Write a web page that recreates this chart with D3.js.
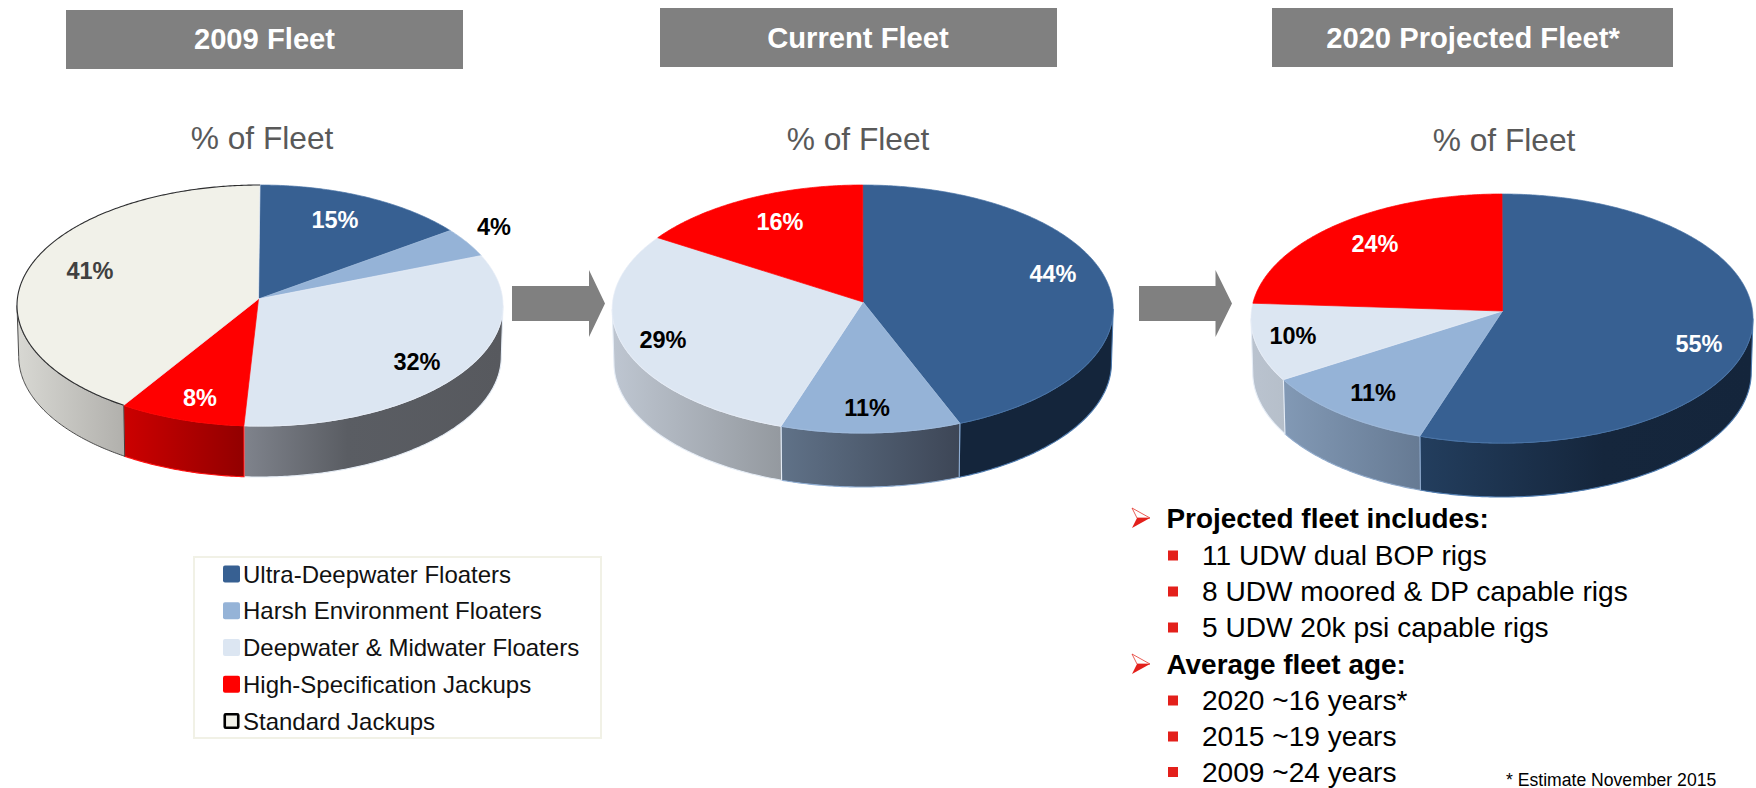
<!DOCTYPE html>
<html><head><meta charset="utf-8">
<script src="https://cdn.jsdelivr.net/npm/d3@7"></script>
<style>html,body{margin:0;padding:0;background:#fff}svg{display:block}text{font-family:"Liberation Sans",Arial,sans-serif}</style>
</head><body><svg id="c" width="1756" height="788"></svg>
<script>
// ---- data ----
const categories = ["Ultra-Deepwater Floaters","Harsh Environment Floaters","Deepwater & Midwater Floaters","High-Specification Jackups","Standard Jackups"];
const fleetTitles = ["2009 Fleet","Current Fleet","2020 Projected Fleet*"];
const subtitle = "% of Fleet";
const fleet2009 = [15,4,32,8,41];
const fleetCurrent = [44,11,29,16,0];
const fleet2020 = [55,11,10,24,0];
const bulletGroups = [
  {head:"Projected fleet includes:",items:["11 UDW dual BOP rigs","8 UDW moored & DP capable rigs","5 UDW 20k psi capable rigs"]},
  {head:"Average fleet age:",items:["2020 ~16 years*","2015 ~19 years","2009 ~24 years"]}
];
const footnote = "* Estimate November 2015";

// ---- style / layout ----
const colors = ["#376092","#95B3D7","#DCE6F2","#FF0000","#F1F1E9"];
const labelColors = [
  ["#fff","#000","#000","#fff","#404040"],
  ["#fff","#000","#000","#fff","#000"],
  ["#fff","#000","#000","#fff","#000"]];
const pies = [
 {cx:260,cy:305.5,rx:243,ry:120.5,ax:258.5,ay:299,depth:51,values:fleet2009,
  head:[66,10,397,59],headText:[264.5,38.5],sub:[262,138],
  labels:[[335,220],[494,226.5],[90,271],[417,362],[200,398]],
  walls:{2:[["#7f838c",0],["#5a5d63",.4],["#57595e",1]],3:[["#cc0000",0],["#920000",1]],4:[["#d8d8d3",0],["#b1b0ac",1]]},
  edge:{2:"#e6edf6",3:"#ff1010",4:"#3a3a3a"}},
 {cx:862.7,cy:309,rx:250.5,ry:124,ax:863,ay:302,depth:54,values:fleetCurrent,
  head:[660,8,397,59],headText:[858,37.5],sub:[858,139],
  labels:[[1053,274],[867,408],[663,340],[780,222]],
  walls:{0:[["#14253b",0],["#14253b",1]],1:[["#607288",0],["#3d4656",1]],2:[["#bec6d1",0],["#94999f",1]]},
  edge:{0:"#4f7cb0",1:"#8fadd2",2:"#e6edf6"}},
 {cx:1502,cy:318.5,rx:251,ry:124.5,ax:1502.5,ay:311,depth:54,values:fleet2020,
  head:[1272,8,401,59],headText:[1473,37.5],sub:[1504,140],
  labels:[[1699,344],[1373,393],[1293,336],[1375,244]],
  walls:{0:[["#233e5e",0],["#15263c",.55],["#14253b",1]],1:[["#8299b5",0],["#667a93",1]],2:[["#bac3cf",0],["#b6bfca",1]]},
  edge:{0:"#4f7cb0",1:"#8fa9ca",2:"#e6edf6"}}
];
const arrows = [[512,589,605],[1139,1215.5,1232]];
const arrowY = [270,286,321,337];
const svg = d3.select("#c"), defs = svg.append("defs");
const lineGen = d3.line().x(d=>d[0]).y(d=>d[1]);
const pieGen = d3.pie().sort(null).value(d=>d).startAngle(0).endAngle(2*Math.PI);

pies.forEach((p,pi)=>{
  const k = (p.cy-p.ay)/p.ry;
  const B = p.ry*(1-k*k), A = p.rx*Math.sqrt(1-k*k);
  const sx = d3.scaleLinear().domain([-1,1]).range([p.cx-A,p.cx+A]);
  const sy = d3.scaleLinear().domain([-1,1]).range([p.ay-B,p.ay+B]);
  // perspective projection of a point on the unit disc
  const proj = (th,r=1,drop=0,sc=1)=>{
    const u=r*Math.sin(th), v=-r*Math.cos(th), w=1-k*v;
    return [p.cx+(sx(u/w)-p.cx)*sc, sy(v/w)+drop];
  };
  const arcPts=(a,b,drop=0,sc=1)=>{
    const n=Math.max(2,Math.ceil(Math.abs(b-a)/0.01));
    return d3.range(n+1).map(i=>proj(a+(b-a)*i/n,1,drop,sc));
  };
  const arcs = pieGen(p.values);
  const limA = Math.PI/2+Math.asin(k), limB = 3*Math.PI/2-Math.asin(k);
  const g = svg.append("g");
  // walls
  arcs.forEach((d,i)=>{
    if(!d.value) return;
    const a=Math.max(d.startAngle,limA), b=Math.min(d.endAngle,limB);
    if(b<=a||!p.walls[i]) return;
    const top=arcPts(a,b), bot=arcPts(b,a,p.depth,.993);
    const xs=top.concat(bot).map(q=>q[0]);
    const id=`w${pi}_${i}`;
    const lg=defs.append("linearGradient").attr("id",id).attr("gradientUnits","userSpaceOnUse")
      .attr("x1",d3.min(xs)).attr("x2",d3.max(xs)).attr("y1",0).attr("y2",0);
    lg.selectAll("stop").data(p.walls[i]).enter().append("stop")
      .attr("offset",s=>s[1]).attr("stop-color",s=>s[0]);
    g.append("path").attr("d",lineGen(top.concat(bot))+"Z")
      .attr("fill",`url(#${id})`).attr("stroke",p.edge[i]).attr("stroke-width",i===4?0.9:1.1);
  });
  // top faces
  arcs.forEach((d,i)=>{
    if(!d.value) return;
    const pts=[[p.ax,p.ay]].concat(arcPts(d.startAngle,d.endAngle));
    g.append("path").attr("d",lineGen(pts)+"Z").attr("fill",colors[i])
      .attr("stroke",i===3?"#ff0000":(i===0?"#4a74a6":(i===1?"#a3bddd":"#e6edf6"))).attr("stroke-width",0.7);
    if(i===4) g.append("path").attr("d",lineGen(arcPts(d.startAngle,d.endAngle))).attr("fill","none").attr("stroke","#2e2e2e").attr("stroke-width",1.1);
  });
  // header
  svg.append("rect").attr("x",p.head[0]).attr("y",p.head[1]).attr("width",p.head[2]).attr("height",p.head[3]).attr("fill","#808080");
  svg.append("text").attr("x",p.headText[0]).attr("y",p.headText[1]).attr("dy","0.36em").attr("text-anchor","middle")
    .attr("font-size",29.2).attr("font-weight","bold").attr("fill","#fff").text(fleetTitles[pi]);
  svg.append("text").attr("x",p.sub[0]).attr("y",p.sub[1]).attr("dy","0.36em").attr("text-anchor","middle")
    .attr("font-size",31.7).attr("fill","#595959").text(subtitle);
  // labels
  const order = pi===0 ? [0,1,4,2,3] : [0,1,2,3];
  order.forEach((cat,li)=>{
    svg.append("text").attr("x",p.labels[li][0]).attr("y",p.labels[li][1]).attr("dy","0.36em").attr("text-anchor","middle")
      .attr("font-size",23.5).attr("font-weight","bold").attr("fill",labelColors[pi][cat]).text(p.values[cat]+"%");
  });
});

// arrows
arrows.forEach(a=>{
  const pts=[[a[0],arrowY[1]],[a[1],arrowY[1]],[a[1],arrowY[0]],[a[2],(arrowY[0]+arrowY[3])/2],[a[1],arrowY[3]],[a[1],arrowY[2]],[a[0],arrowY[2]]];
  svg.append("path").attr("d",lineGen(pts)+"Z").attr("fill","#808080");
});

// legend
svg.append("rect").attr("x",194).attr("y",557).attr("width",407).attr("height",181).attr("fill","#fff").attr("stroke","#f1f1e6").attr("stroke-width",2);
const legY=d3.scalePoint().domain(categories).range([574,721]);
categories.forEach((c,i)=>{
  const y=legY(c), std=i===4, s=std?13.5:17;
  svg.append("rect").attr("x",231.5-s/2).attr("y",y-s/2).attr("width",s).attr("height",s).attr("rx",std?1:2)
    .attr("fill",colors[i]).attr("stroke",std?"#000":"none").attr("stroke-width",std?2.6:0);
  svg.append("text").attr("x",243).attr("y",y).attr("dy","0.36em").attr("font-size",24).attr("fill","#111").text(c);
});

// bullets
const baselines=[528,565,601,637,674,710,746,781.5];
let bi=0;
bulletGroups.forEach(gr=>{
  const y=baselines[bi++];
  const bx=1132, by=y-20;
  svg.append("path").attr("d",`M${bx},${by}L${bx+18},${by+10}L${bx+5},${by+10}Z`).attr("fill","#fff").attr("stroke","#e3342b").attr("stroke-width",0.8);
  svg.append("path").attr("d",`M${bx},${by+20}L${bx+18},${by+10}L${bx+5},${by+10}Z`).attr("fill","#e3201b");
  svg.append("text").attr("x",1166.5).attr("y",y).attr("font-size",27.9).attr("font-weight","bold").attr("fill","#000").text(gr.head);
  gr.items.forEach(t=>{
    const yy=baselines[bi++];
    svg.append("rect").attr("x",1168).attr("y",yy-14.5).attr("width",10).attr("height",10).attr("fill","#e3201b");
    svg.append("text").attr("x",1202).attr("y",yy).attr("font-size",28.1).attr("fill","#000").text(t);
  });
});
svg.append("text").attr("x",1506).attr("y",785.5).attr("font-size",17.6).attr("fill","#000").text(footnote);
</script></body></html>
